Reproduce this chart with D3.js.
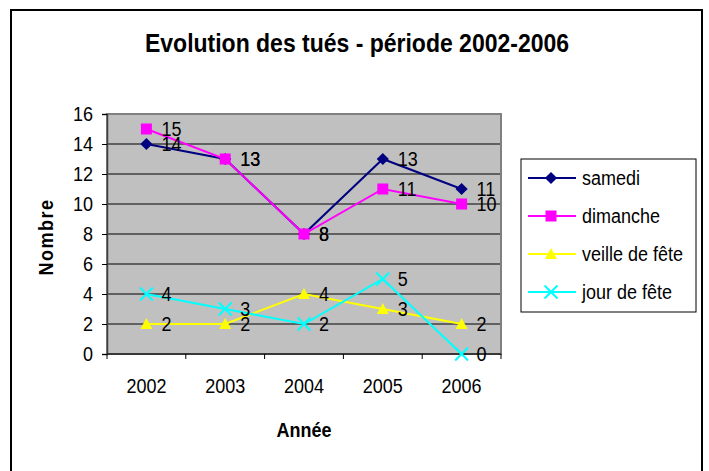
<!DOCTYPE html>
<html>
<head>
<meta charset="utf-8">
<script src="https://cdn.jsdelivr.net/npm/d3@7"></script>
<style>
  body { margin: 0; background: #fff; }
  svg text { font-family: "Liberation Sans", Arial, sans-serif; }
</style>
</head>
<body>
<svg width="709" height="471"></svg>
<script>
// data
const years = ["2002", "2003", "2004", "2005", "2006"];
const samedi = [14, 13, 8, 13, 11];
const dimanche = [15, 13, 8, 11, 10];
const veilleFete = [2, 2, 4, 3, 2];
const jourFete = [4, 3, 2, 5, 0];
const seriesNames = ["samedi", "dimanche", "veille de fête", "jour de fête"];
const yTicks = [0, 2, 4, 6, 8, 10, 12, 14, 16];

const svg = d3.select("svg");

// excel text looks a bit taller than arial, stretch it vertically
const stretch = 1.1;
function label(parent, px, py, txt, size, anchor, bold) {
    return parent.append("text")
        .attr("transform", `translate(${px},${py}) scale(1,${stretch})`)
        .attr("text-anchor", anchor || "start")
        .attr("font-size", size)
        .attr("font-weight", bold ? "bold" : "normal")
        .attr("fill", "black")
        .text(txt);
}

// chart frame
svg.append("rect")
    .attr("x", 11).attr("y", 10)
    .attr("width", 691).attr("height", 480)
    .attr("fill", "white")
    .attr("stroke", "black")
    .attr("stroke-width", 2);

const plot = {left: 107, top: 114, right: 501, bottom: 354};

const x = d3.scaleBand()
    .domain(years)
    .range([plot.left, plot.right]);

const y = d3.scaleLinear()
    .domain([0, 16])
    .range([plot.bottom, plot.top]);

const cx = d => x(d) + x.bandwidth() / 2;

// plot area
svg.append("rect")
    .attr("x", plot.left).attr("y", plot.top)
    .attr("width", plot.right - plot.left)
    .attr("height", plot.bottom - plot.top)
    .attr("fill", "#c0c0c0");

// gridlines
svg.append("g")
    .selectAll("line")
    .data(yTicks.filter(t => t > 0 && t < 16))
    .enter().append("line")
    .attr("x1", plot.left).attr("x2", plot.right)
    .attr("y1", d => y(d)).attr("y2", d => y(d))
    .attr("stroke", "black")
    .attr("stroke-width", 1);

svg.append("rect")
    .attr("x", plot.left).attr("y", plot.top)
    .attr("width", plot.right - plot.left)
    .attr("height", plot.bottom - plot.top)
    .attr("fill", "none")
    .attr("stroke", "#808080")
    .attr("stroke-width", 2);

// y axis
const yAxis = svg.append("g")
    .attr("transform", `translate(${plot.left},0)`)
    .call(d3.axisLeft(y).tickValues(yTicks).tickSize(5).tickFormat(""));
yAxis.select(".domain").attr("stroke", "#404040").attr("stroke-width", 1.5);
yAxis.selectAll(".tick line").attr("stroke", "black");

const yLabels = svg.append("g");
yTicks.forEach(t => label(yLabels, 93, y(t) + 6.5, t, 18, "end"));

// x axis line and ticks at category boundaries
svg.append("line")
    .attr("x1", plot.left).attr("x2", plot.right)
    .attr("y1", plot.bottom).attr("y2", plot.bottom)
    .attr("stroke", "#202020")
    .attr("stroke-width", 1.5);

const bounds = years.map(d => x(d)).concat([x(years[years.length - 1]) + x.bandwidth()]);
svg.append("g")
    .selectAll("line")
    .data(bounds)
    .enter().append("line")
    .attr("x1", d => d).attr("x2", d => d)
    .attr("y1", plot.bottom).attr("y2", plot.bottom + 5)
    .attr("stroke", "black");

const xLabels = svg.append("g");
years.forEach(d => label(xLabels, cx(d), 393, d, 18, "middle"));

// titles
label(svg, 357, 52, "Evolution des tués - période 2002-2006", 23, "middle", true);
label(svg, 304, 437, "Année", 18, "middle", true);

svg.append("text")
    .attr("transform", `translate(53,237) rotate(-90) scale(1,${stretch})`)
    .attr("text-anchor", "middle")
    .attr("font-size", 18)
    .attr("font-weight", "bold")
    .attr("letter-spacing", 1.5)
    .text("Nombre");

// series
const seriesValues = [samedi, dimanche, veilleFete, jourFete];
const colors = ["#000080", "#ff00ff", "#ffff00", "#00ffff"];

function marker(g, i, px, py) {
    if (i === 0) {
        g.append("rect")
            .attr("x", -4.3).attr("y", -4.3)
            .attr("width", 8.6).attr("height", 8.6)
            .attr("transform", `translate(${px},${py}) rotate(45)`)
            .attr("fill", colors[i]);
    } else if (i === 1) {
        g.append("path")
            .attr("d", d3.symbol(d3.symbolSquare, 121)())
            .attr("transform", `translate(${px},${py})`)
            .attr("fill", colors[i]);
    } else if (i === 2) {
        g.append("path")
            .attr("d", `M${px - 6},${py + 5}L${px + 6},${py + 5}L${px},${py - 6}Z`)
            .attr("fill", colors[i]);
    } else {
        g.append("path")
            .attr("d", d3.symbol(d3.symbolX, 110)())
            .attr("transform", `translate(${px},${py})`)
            .attr("fill", "none")
            .attr("stroke", colors[i])
            .attr("stroke-width", 2);
    }
}

const line = d3.line()
    .x((d, i) => cx(years[i]))
    .y(d => y(d));

seriesValues.forEach((vals, i) => {
    const g = svg.append("g");
    g.append("path")
        .datum(vals)
        .attr("d", line)
        .attr("fill", "none")
        .attr("stroke", colors[i])
        .attr("stroke-width", 2);
    vals.forEach((v, j) => marker(g, i, cx(years[j]), y(v)));
});

// data labels
seriesValues.forEach(vals => {
    const g = svg.append("g");
    vals.forEach((v, j) => label(g, cx(years[j]) + 15, y(v) + 7, v, 18));
});

// legend
const legend = svg.append("g");
legend.append("rect")
    .attr("x", 521).attr("y", 159)
    .attr("width", 175).attr("height", 153)
    .attr("fill", "white")
    .attr("stroke", "black")
    .attr("stroke-width", 1);

seriesNames.forEach((name, i) => {
    const ly = 178 + i * 38;
    legend.append("line")
        .attr("x1", 528).attr("x2", 576)
        .attr("y1", ly).attr("y2", ly)
        .attr("stroke", colors[i])
        .attr("stroke-width", 2);
    marker(legend, i, 551, ly);
    label(legend, 582, ly + 7, name, 18);
});
</script>
</body>
</html>
